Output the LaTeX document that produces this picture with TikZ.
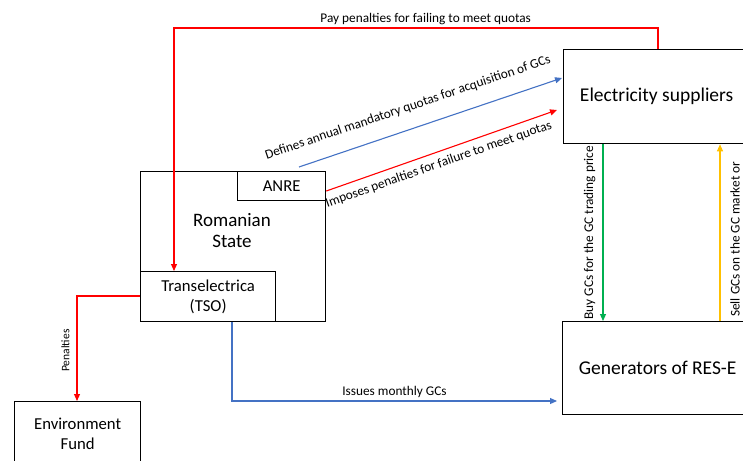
\documentclass[tikz,border=0pt]{standalone}
\usepackage{fontspec}
\setmainfont{Carlito}
\usetikzlibrary{arrows.meta,calc}
\definecolor{ored}{RGB}{255,0,0}
\definecolor{oblue}{RGB}{68,114,196}
\definecolor{ogreen}{RGB}{0,176,80}
\definecolor{oorange}{RGB}{255,192,0}
\begin{document}
\begin{tikzpicture}[x=1pt,y=-1pt,
  box/.style={draw,line width=1.3pt,inner sep=0pt,anchor=north west,align=center},
  lbl/.style={font=\fontsize{13.3}{15}\selectfont,inner sep=1pt},
  big/.style={font=\fontsize{16.7}{20}\selectfont},
  huge/.style={font=\fontsize{19.5}{22}\selectfont},
  arr/.style={line width=1.1pt,-{Triangle[length=7pt,width=6pt]}}]
\useasboundingbox (0,0) rectangle (743,460);
\clip (0,0) rectangle (743,460);
% boxes
\node[box,huge,minimum width=186pt,minimum height=94pt] (ES) at (563,49) {Electricity suppliers};
\node[box,huge,minimum width=190pt,minimum height=93pt] (GEN) at (562,321) {Generators of RES-E};
\node[box,minimum width=185pt,minimum height=150pt] (RS) at (140,171) {};
\node[font=\fontsize{19}{21}\selectfont,align=center] (RStext) at (232,231) {Romanian\\State};
\node[box,big,minimum width=88pt,minimum height=29pt] (ANRE) at (237,171) {ANRE};
\node[box,big,minimum width=135pt,minimum height=50pt] (TSO) at (140,271) {Transelectrica\\(TSO)};
\node[box,big,minimum width=126pt,minimum height=64pt] (EF) at (14,401) {Environment\\Fund};
% coordinates
\coordinate (c2) at (658,28);
\coordinate (c3) at (174,28);
\coordinate (c4) at (174,271);
% top red
\draw[arr,ored] (ES.north -| c2) -- (c2) -- node[lbl,black,above=2pt,pos=0.48] {Pay penalties for failing to meet quotas} (c3) -- (c4);
% blue defines
\coordinate (b1) at (299,167);
\coordinate (b2) at (562,78);
\draw[arr,oblue] (b1) -- node[lbl,black,sloped,above=14pt,pos=0.44] {Defines annual mandatory quotas for acquisition of GCs} (b2);
% red imposes
\coordinate (r1) at (327,191);
\coordinate (r2) at (557,110);
\draw[arr,ored] (ANRE.east |- r1) -- node[lbl,black,sloped,below=5pt,pos=0.47] {Imposes penalties for failure to meet quotas} (r2);
% green buy
\coordinate (g1) at (603,143);
\draw[arr,ogreen] (ES.south -| g1) -- node[lbl,black,rotate=90,above=6pt,pos=0.5] {Buy GCs for the GC trading price} (GEN.north -| g1);
% orange sell
\coordinate (o1) at (720,321);
\draw[arr,oorange] (GEN.north -| o1) -- (ES.south -| o1);
\node[lbl,rotate=90,anchor=west] (selltxt) at (735,318) {Sell GCs on the GC market or};
% penalties
\coordinate (p1) at (77,296);
\draw[arr,ored] (TSO.west |- p1) -- (p1) -- node[lbl,font=\fontsize{11.5}{13}\selectfont,black,rotate=90,above=6pt,pos=0.52] {Penalties} (EF.north -| p1);
% issues
\coordinate (i1) at (232,401);
\coordinate (i2) at (557,401);
\draw[arr,oblue] (TSO.south -| i1) -- (i1) -- node[lbl,black,above=2pt,pos=0.5] {Issues monthly GCs} (i2);
\end{tikzpicture}
\end{document}
